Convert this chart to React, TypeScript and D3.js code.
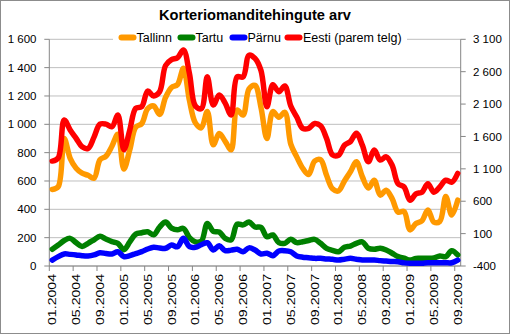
import React from "react";
import * as d3 from "d3";

const years = [2004, 2005, 2006, 2007, 2008, 2009];
const months: string[] = [];
years.forEach((y) => {
  for (let m = 1; m <= 12; m++) {
    if (y === 2009 && m > 9) break;
    months.push((m < 10 ? "0" + m : "" + m) + "." + y);
  }
});

const tickLabels = [
  "01.2004", "05.2004", "09.2004", "01.2005", "05.2005", "09.2005",
  "01.2006", "05.2006", "09.2006", "01.2007", "05.2007", "09.2007",
  "01.2008", "05.2008", "09.2008", "01.2009", "05.2009", "09.2009",
];

const leftTicks = [0, 200, 400, 600, 800, 1000, 1200, 1400, 1600];
const rightTicks = [-400, 100, 600, 1100, 1600, 2100, 2600, 3100];

const tallinn = [540, 560, 900, 760, 690, 655, 640, 620, 750, 775, 845, 930, 685, 820, 980, 1005, 1110, 1130, 1070, 1190, 1260, 1280, 1395, 1170, 1010, 975, 1090, 855, 935, 880, 820, 1100, 1065, 1250, 1275, 1120, 900, 1090, 1050, 1085, 860, 770, 690, 645, 740, 750, 640, 545, 530, 600, 665, 735, 630, 550, 605, 500, 535, 475, 380, 385, 255, 300, 320, 395, 310, 315, 490, 360, 465];
const tartu = [118, 148, 180, 195, 165, 138, 160, 185, 210, 190, 172, 160, 115, 170, 225, 235, 242, 220, 275, 310, 268, 255, 265, 200, 170, 175, 300, 245, 240, 195, 185, 295, 290, 310, 275, 273, 207, 219, 165, 160, 188, 165, 171, 180, 188, 160, 125, 110, 101, 132, 141, 160, 171, 125, 118, 125, 113, 90, 66, 55, 42, 54, 54, 54, 56, 71, 66, 108, 78];
const parnu = [42, 66, 85, 82, 78, 72, 70, 78, 94, 88, 85, 101, 66, 73, 88, 101, 120, 132, 127, 125, 148, 136, 195, 136, 132, 150, 164, 113, 143, 108, 112, 118, 101, 128, 113, 85, 90, 73, 106, 108, 100, 71, 62, 59, 54, 54, 50, 47, 42, 48, 54, 48, 42, 42, 42, 38, 35, 32, 30, 22, 19, 19, 20, 23, 23, 23, 23, 23, 42];
const eesti = [1220, 1270, 1855, 1700, 1570, 1440, 1415, 1590, 1790, 1790, 1750, 1930, 1395, 1700, 2035, 2060, 2300, 2225, 2290, 2695, 2785, 2815, 2935, 2575, 2070, 2030, 2520, 2085, 2240, 2115, 1930, 2520, 2520, 2855, 2805, 2620, 2060, 2400, 2290, 2380, 2070, 1900, 1725, 1725, 1800, 1765, 1570, 1315, 1310, 1465, 1520, 1650, 1465, 1210, 1390, 1235, 1285, 1155, 870, 820, 615, 715, 740, 870, 740, 820, 925, 895, 1030];

const seriesNames = ["Tallinn", "Tartu", "Pärnu", "Eesti (parem telg)"];
const seriesColors = ["#FF9900", "#008000", "#0000FF", "#FF0000"];

const W = 510;
const H = 334;
const X0 = 49.3;
const X1 = 460.7;
const YTOP = 39.3;
const YBOT = 266;
const FONT = "'Liberation Sans', Arial, sans-serif";

export default function App() {
  const x = d3.scaleBand<string>().domain(months).range([X0, X1]).padding(0);
  const yL = d3.scaleLinear().domain([0, 1600]).range([YBOT, YTOP]);
  const yR = d3.scaleLinear().domain([-400, 3100]).range([YBOT, YTOP]);
  const cx = (i: number) => (x(months[i]) as number) + x.bandwidth() / 2;

  const mk = (vals: number[], ys: d3.ScaleLinear<number, number>) =>
    d3
      .line<number>()
      .x((_, i) => cx(i))
      .y((v) => ys(v))
      .curve(d3.curveCatmullRom.alpha(0.5))(vals) || "";

  const paths = [
    { d: mk(tallinn, yL), c: seriesColors[0] },
    { d: mk(tartu, yL), c: seriesColors[1] },
    { d: mk(parnu, yL), c: seriesColors[2] },
    { d: mk(eesti, yR), c: seriesColors[3] },
  ];

  const legendItems = [
    { sx: 118.5, tx: 136.5 },
    { sx: 177.5, tx: 195.5 },
    { sx: 229.5, tx: 247.5 },
    { sx: 284.5, tx: 303 },
  ];

  return (
    <svg
      width={W}
      height={H}
      style={{ position: "absolute", left: 0, top: 0, background: "#fff" }}
      fontFamily={FONT}
    >
      <rect x={0.5} y={0.5} width={W - 1} height={H - 1} fill="#fff" stroke="#8c8c8c" />
      <text
        x={255}
        y={20}
        textAnchor="middle"
        fontSize={14}
        fontWeight="bold"
        fill="#000"
        textLength={192}
        lengthAdjust="spacingAndGlyphs"
      >
        Korteriomanditehingute arv
      </text>

      {leftTicks.map((t) => (
        <line key={"g" + t} x1={X0} x2={X1} y1={yL(t)} y2={yL(t)} stroke="#bfbfbf" strokeWidth={1} />
      ))}

      <line x1={X0} x2={X0} y1={YTOP} y2={YBOT} stroke="#868686" />
      <line x1={X1} x2={X1} y1={YTOP} y2={YBOT} stroke="#868686" />
      <line x1={X0} x2={X1} y1={YBOT} y2={YBOT} stroke="#868686" />
      {leftTicks.map((t) => (
        <g key={"l" + t}>
          <line x1={X0 - 5} x2={X0} y1={yL(t)} y2={yL(t)} stroke="#868686" />
          <text x={36.5} y={yL(t)} dy="0.36em" textAnchor="end" fontSize={11.5} fill="#000">
            {d3.format(",")(t).replace(/,/g, " ")}
          </text>
        </g>
      ))}
      {rightTicks.map((t) => (
        <g key={"r" + t}>
          <line x1={X1} x2={X1 + 5} y1={yR(t)} y2={yR(t)} stroke="#868686" />
          <text x={473} y={yR(t)} dy="0.36em" textAnchor="start" fontSize={11.5} fill="#000">
            {d3.format(",")(t).replace(/,/g, " ").replace("−", "-")}
          </text>
        </g>
      ))}
      {tickLabels.map((lab) => {
        const bx = x(lab) as number;
        const c = bx + x.bandwidth() / 2;
        return (
          <g key={"x" + lab}>
            <line x1={bx} x2={bx} y1={YBOT} y2={YBOT + 5} stroke="#868686" />
            <text
              transform={`translate(${c + 4},274) rotate(-90)`}
              textAnchor="end"
              fontSize={11.5}
              fill="#000"
              textLength={51}
              lengthAdjust="spacingAndGlyphs"
            >
              {lab}
            </text>
          </g>
        );
      })}

      {paths.map((p, i) => (
        <path
          key={"p" + i}
          d={p.d}
          fill="none"
          stroke={p.c}
          strokeWidth={5.5}
          strokeLinejoin="round"
          strokeLinecap="round"
        />
      ))}

      <rect x={113} y={31} width={294} height={16} fill="#fff" />
      {seriesNames.map((n, i) => (
        <g key={"lg" + i}>
          <line
            x1={legendItems[i].sx + 3}
            x2={legendItems[i].sx + 15}
            y1={37.5}
            y2={37.5}
            stroke={seriesColors[i]}
            strokeWidth={6}
            strokeLinecap="round"
          />
          <text x={legendItems[i].tx} y={41.8} fontSize={12.5} fill="#000">
            {n}
          </text>
        </g>
      ))}
    </svg>
  );
}
